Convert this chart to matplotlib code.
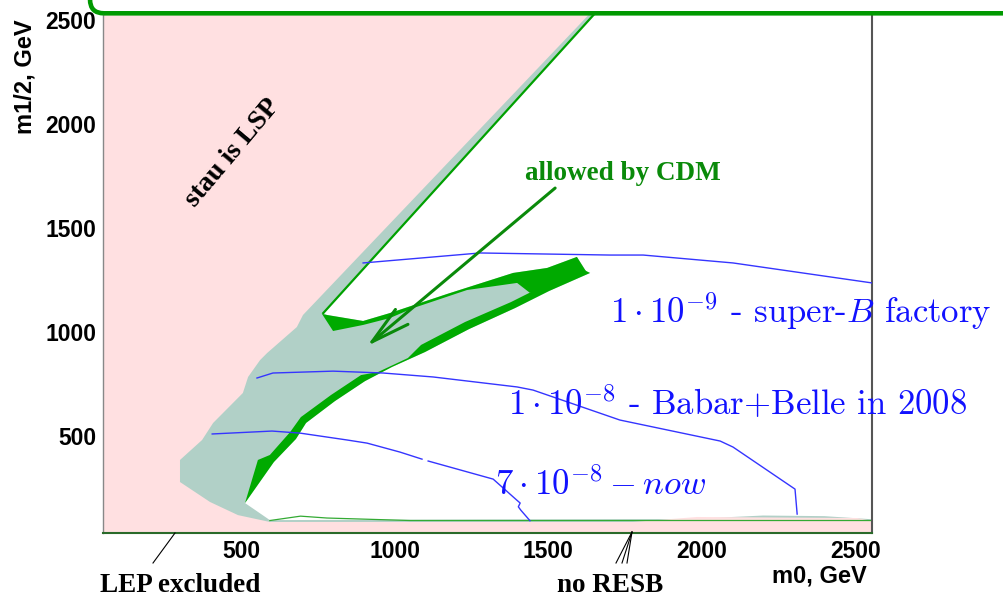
import numpy as np
import matplotlib.pyplot as plt
from matplotlib.patches import FancyBboxPatch
from matplotlib.lines import Line2D
from matplotlib.transforms import IdentityTransform

plt.rcParams['mathtext.fontset'] = 'cm'

# stau is LSP region (m0, m1/2 in GeV)
stau_x = [48, 1636, 700, 680, 583, 560, 521, 504, 407, 371, 299, 299, 397, 488, 592,
          1776, 1985, 2507, 2555, 2555, 48]
stau_y = [2532, 2532, 1082, 1024, 899, 865, 784, 707, 563, 481, 385, 279, 183, 120, 87,
          87, 111, 106, 92, 34, 34]

# grey band (coannihilation strip region)
band_x = [48, 1652, 766, 778, 896, 983, 1170, 1385, 1496, 1593, 1626, 1636, 1502, 1391,
          1241, 1098, 990, 902, 804, 710, 677, 605, 511, 592, 1300, 1957, 2200, 2400,
          2555, 2555, 48]
band_y = [2532, 2532, 1091, 1082, 1053, 1091, 1183, 1284, 1308, 1361, 1284, 1284, 1197,
          1115, 1014, 904, 832, 764, 668, 563, 486, 375, 178, 96, 99, 101, 118, 115,
          100, 34, 34]

# allowed by CDM, upper strip with loop
cdmUp_x = [762, 778, 896, 983, 1170, 1385, 1496, 1593, 1626, 1440, 1398, 1235, 1059,
           983, 896, 798]
cdmUp_y = [1087, 1082, 1053, 1091, 1183, 1284, 1308, 1361, 1284, 1188, 1236, 1202, 1115,
           1067, 1034, 1005]

# allowed by CDM, lower strip
cdmLow_x = [1636, 1502, 1391, 1241, 1098, 990, 902, 804, 710, 677, 605, 511,
            553, 592, 658, 693, 791, 889, 945, 1042, 1085, 1228, 1378, 1489, 1603]
cdmLow_y = [1284, 1197, 1115, 1014, 904, 832, 764, 668, 563, 486, 375, 178,
            385, 409, 519, 591, 697, 793, 808, 875, 938, 1048, 1144, 1226, 1308]

# CDM edge line from the top
edge_x = [1652, 766]
edge_y = [2532, 1091]
bottomEdge_x = [592, 692, 778, 1049, 1800, 2550]
bottomEdge_y = [94, 115, 106, 94, 94, 94]

# branching ratio contours
br9_x = [896, 1277, 1701, 1809, 2102, 2555]
br9_y = [1332, 1380, 1370, 1370, 1332, 1236]
br8_x = [550, 602, 798, 961, 1124, 1398, 1450, 1733, 2060, 2102, 2304, 2311]
br8_y = [779, 803, 812, 803, 784, 736, 721, 577, 476, 447, 245, 125]
brNow_x = [404, 599, 691, 844, 909, 1016, 1088, np.nan, 1108, 1320, 1397, 1408, 1402, 1410, 1440]
brNow_y = [510, 524, 514, 481, 466, 423, 389, np.nan, 380, 293, 192, 178, 160, 144, 93]

xTicks = [500, 1000, 1500, 2000, 2500]
yTicks = [500, 1000, 1500, 2000, 2500]

fig = plt.figure(figsize=(10.04, 6.05), dpi=100)
ax = fig.add_axes([103 / 1004, 1 - 533 / 605, 769 / 1004, (533 - 13.3) / 605])

ax.fill(band_x, band_y, color='#b1d0c7', lw=0, zorder=1)
ax.fill(stau_x, stau_y, color='#ffe0e1', lw=0, zorder=2)
ax.fill(cdmUp_x, cdmUp_y, color='#00aa00', lw=0, zorder=3)
ax.fill(cdmLow_x, cdmLow_y, color='#00aa00', lw=0, zorder=3)
ax.plot(edge_x, edge_y, color='#00a000', lw=1.6, zorder=4)
ax.plot(bottomEdge_x, bottomEdge_y, color='#33aa33', lw=0.9, zorder=4)

blue = '#3535ff'
ax.plot(br9_x, br9_y, color=blue, lw=1.0, zorder=5)
ax.plot(br8_x, br8_y, color=blue, lw=1.0, zorder=5)
ax.plot(brNow_x, brNow_y, color=blue, lw=1.0, zorder=5)

txtBlue = '#1212ff'
ax.text(1701, 1043, r'$1\cdot10^{-9}$ - super-$B$ factory', color=txtBlue, fontsize=25,
        family='cmr10', ha='left', va='baseline', zorder=6)
ax.text(1368, 601, r'$1\cdot10^{-8}$ - Babar+Belle in 2008', color=txtBlue, fontsize=25,
        family='cmr10', ha='left', va='baseline', zorder=6)
ax.text(1327, 216, r'$7\cdot10^{-8}-now$', color=txtBlue, fontsize=25,
        family='cmr10', ha='left', va='baseline', zorder=6)

ax.text(472, 1861, 'stau is LSP', rotation=50, rotation_mode='anchor', ha='center',
        va='center', family='Liberation Serif', weight='bold', fontsize=20, zorder=6)
ax.text(1743, 1731, 'allowed by CDM', color='#0a8a0a', ha='center', va='baseline',
        family='Liberation Serif', weight='bold', fontsize=19.5, zorder=6)
ax.annotate('', xy=(909, 933), xytext=(1522, 1692),
            arrowprops=dict(arrowstyle='->,head_length=2.8,head_width=0.7', color='#0a8a0a',
                            lw=2.2, mutation_scale=10, shrinkA=0, shrinkB=0), zorder=7)

ax.set_xlim(48, 2555)
ax.set_ylim(34, 2532)
ax.set_xticks(xTicks)
ax.set_yticks(yTicks)
ax.tick_params(length=0, labelsize=16.5)
ax.tick_params(axis='x', pad=5)
ax.tick_params(axis='y', pad=5)
for lab in ax.get_xticklabels() + ax.get_yticklabels():
    lab.set_fontfamily('Liberation Sans')
    lab.set_fontweight('bold')

ax.spines['top'].set_visible(False)
ax.spines['left'].set_color('#888888')
ax.spines['left'].set_linewidth(1.0)
ax.spines['right'].set_color('#555555')
ax.spines['right'].set_linewidth(1.5)
ax.spines['bottom'].set_color('#2a6a2a')
ax.spines['bottom'].set_linewidth(1.5)

# axis titles
fig.text(25 / 1004, 1 - 77 / 605, 'm1/2, GeV', rotation=90, ha='center', va='center',
         family='Liberation Sans', weight='bold', fontsize=17)
fig.text(819 / 1004, 1 - 583 / 605, 'm0, GeV', ha='center', va='baseline',
         family='Liberation Sans', weight='bold', fontsize=17)
fig.text(100 / 1004, 1 - 592 / 605, 'LEP excluded', ha='left', va='baseline',
         family='Liberation Serif', weight='bold', fontsize=19.5)
fig.text(610 / 1004, 1 - 592 / 605, 'no RESB', ha='center', va='baseline',
         family='Liberation Serif', weight='bold', fontsize=19.5)

# pointer lines below the axis
fig.add_artist(Line2D([153 / 1004, 175 / 1004], [1 - 563 / 605, 1 - 533 / 605],
                      color='black', lw=0.8, transform=fig.transFigure))
for bx in [616, 622, 627]:
    fig.add_artist(Line2D([bx / 1004, 632 / 1004], [1 - 563 / 605, 1 - 532 / 605],
                          color='black', lw=0.8, transform=fig.transFigure))

# slide frame on top
frame = FancyBboxPatch((90, 605 - 13.3), 1200, 200, boxstyle='round,pad=0,rounding_size=14',
                       fill=False, edgecolor='#009900', lw=3.3, transform=IdentityTransform())
fig.add_artist(frame)

fig.savefig('out.png', dpi=100)
